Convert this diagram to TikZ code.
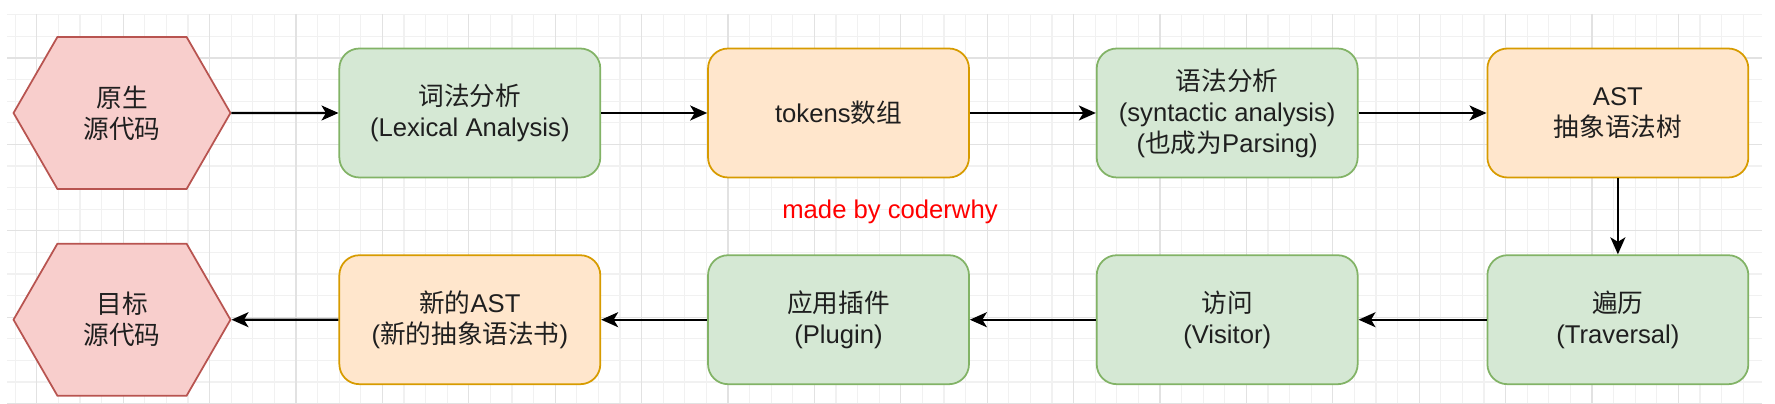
\documentclass[tikz,border=0pt]{standalone}
\usepackage{fontspec}
\setmainfont{Liberation Sans}
\newfontfamily\cjk{Noto Sans CJK SC}
\usetikzlibrary{arrows.meta,positioning,shapes.symbols}

\definecolor{hexfill}{HTML}{F8CECC}
\definecolor{hexline}{HTML}{B85450}
\definecolor{greenfill}{HTML}{D5E8D4}
\definecolor{greenline}{HTML}{82B366}
\definecolor{orangefill}{HTML}{FFE6CC}
\definecolor{orangeline}{HTML}{D79B00}
\definecolor{gridminor}{HTML}{F1F1F1}
\definecolor{gridmajor}{HTML}{E2E2E2}

\begin{document}
\begin{tikzpicture}[x=0.02cm,y=-0.02cm,->,>={Stealth[length=0.34cm,width=0.3cm,inset=0.09cm]},line width=1.2pt,
  font=\fontsize{14.6pt}{17.6pt}\selectfont,text=black!88,
  hexa/.style={signal,signal to=east and west,signal pointer angle=120,draw=hexline,fill=hexfill,line width=1pt,minimum width=4.34cm,minimum height=3.04cm,align=center,inner sep=0pt},
  box/.style={rectangle,rounded corners=0.4cm,line width=1pt,minimum width=5.22cm,minimum height=2.58cm,align=center},
  greenbox/.style={box,draw=greenline,fill=greenfill},
  orangebox/.style={box,draw=orangeline,fill=orangefill}]
  \useasboundingbox (0,0) rectangle (1775,404);

  % background grid
  \begin{scope}[-,line width=0.6pt]
    \foreach \gx in {15.2,36.8,...,1762} \draw[gridminor] (\gx,14) -- (\gx,404);
    \foreach \gy in {14.8,36.4,...,404} \draw[gridminor] (7,\gy) -- (1762,\gy);
    \foreach \gx in {36.8,123.2,...,1762} \draw[gridmajor] (\gx,14) -- (\gx,404);
    \foreach \gy in {58,144.4,...,404} \draw[gridmajor] (7,\gy) -- (1762,\gy);
  \end{scope}

  \node[hexa] (src) at (122,113) {{\cjk 原生}\\{\cjk 源代码}};
  \node[greenbox] (lex) [right=2.14cm of src] {{\cjk 词法分析}\\(Lexical Analysis)};
  \node[orangebox] (tokens) [right=2.12cm of lex] {tokens{\cjk 数组}};
  \node[greenbox] (syn) [right=2.52cm of tokens] {{\cjk 语法分析}\\(syntactic analysis)\\({\cjk 也成为}Parsing)};
  \node[orangebox] (ast) [right=2.56cm of syn] {AST\\{\cjk 抽象语法树}};
  \node[greenbox] (trav) [below=1.52cm of ast] {{\cjk 遍历}\\(Traversal)};
  \node[greenbox] (visit) [left=2.56cm of trav] {{\cjk 访问}\\(Visitor)};
  \node[greenbox] (plugin) [left=2.52cm of visit] {{\cjk 应用插件}\\(Plugin)};
  \node[orangebox] (newast) [left=2.12cm of plugin] {{\cjk 新的}AST\\({\cjk 新的抽象语法书})};
  \node[hexa] (dst) [left=2.14cm of newast] {{\cjk 目标}\\{\cjk 源代码}};
  \node[text=red] (mark) at (890,212) {made by coderwhy};

  \path
(src) edge (lex)
(lex) edge (tokens)
(tokens) edge (syn)
(syn) edge (ast)
(ast) edge (trav)
(trav) edge (visit)
(visit) edge (plugin)
(plugin) edge (newast)
(newast) edge (dst)
;
\end{tikzpicture}
\end{document}
